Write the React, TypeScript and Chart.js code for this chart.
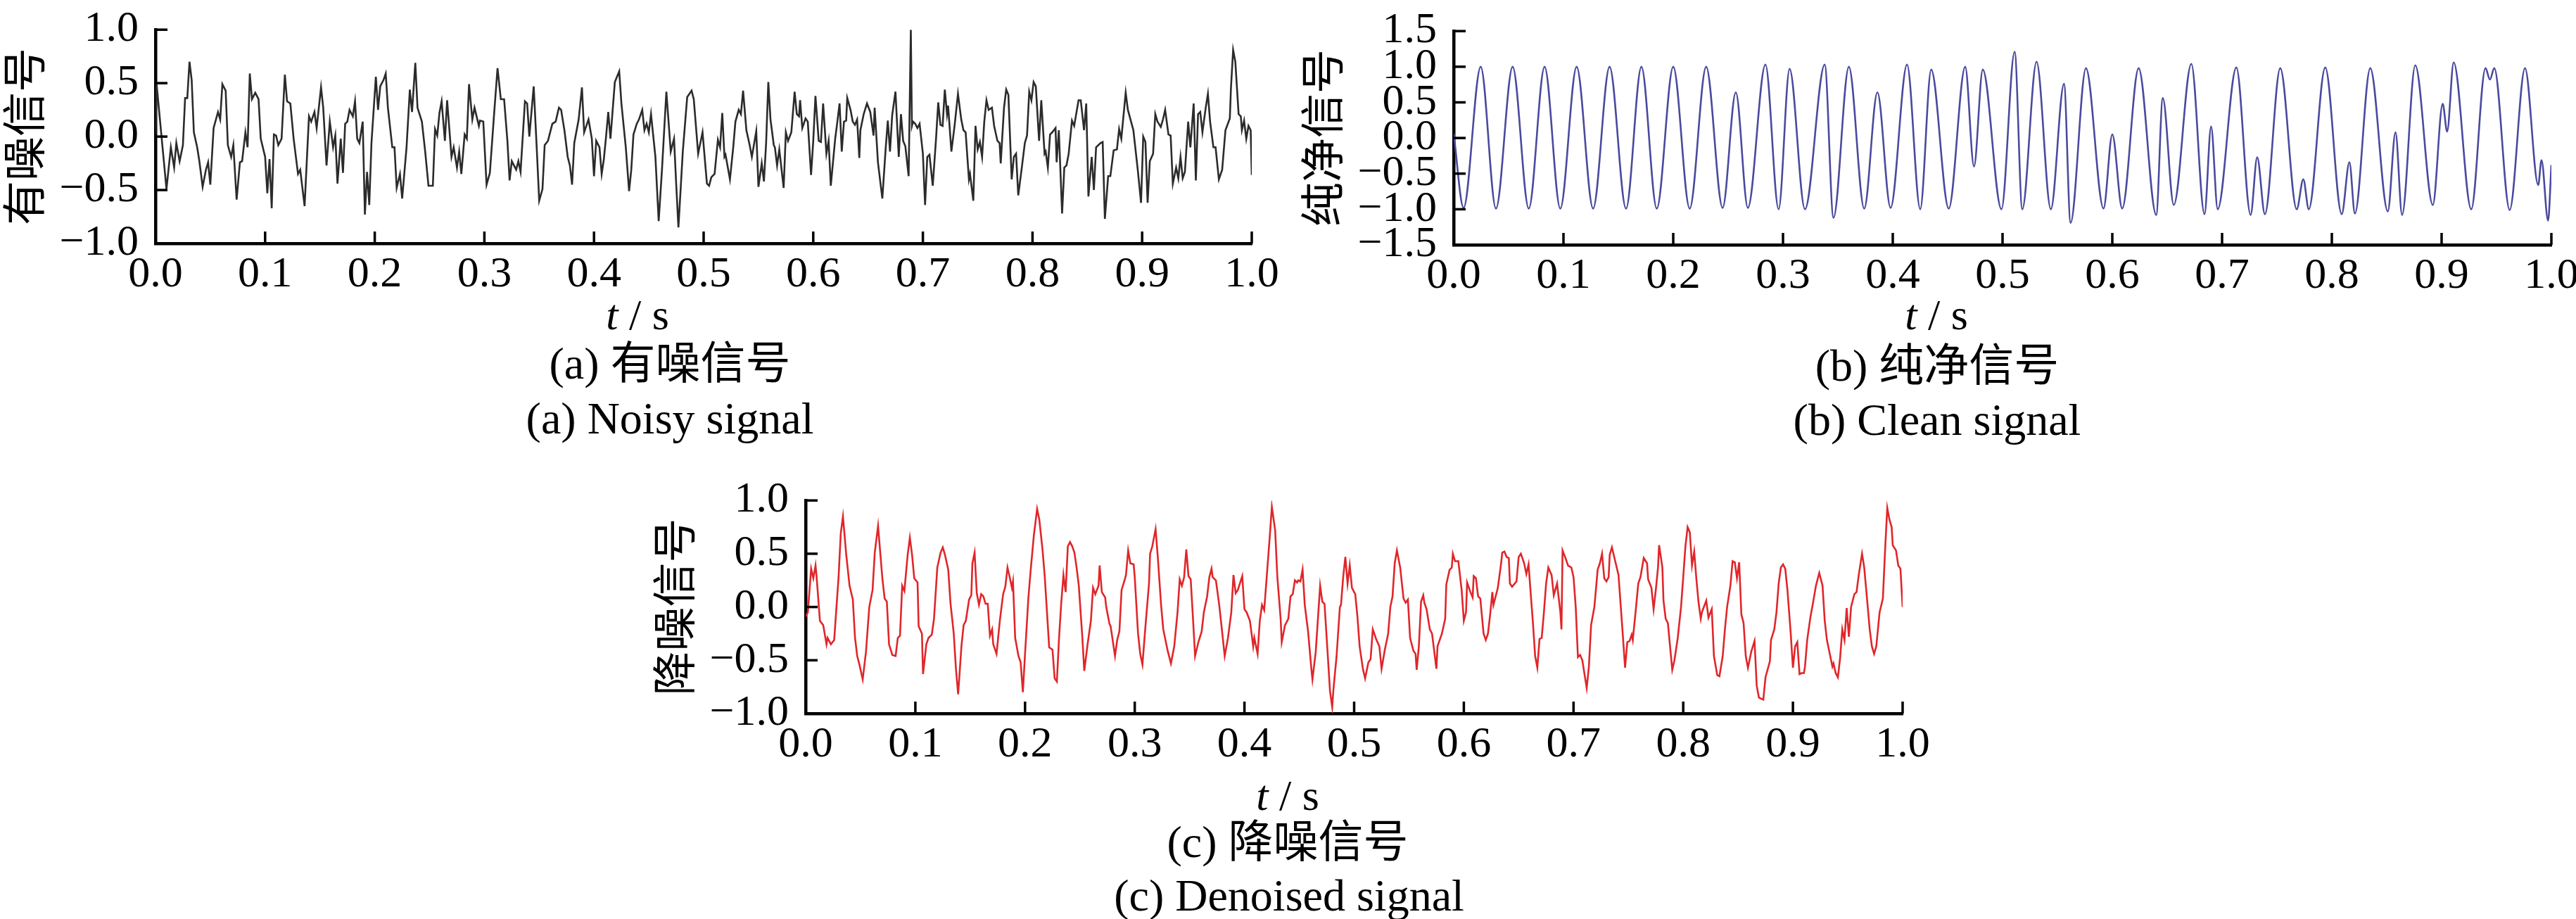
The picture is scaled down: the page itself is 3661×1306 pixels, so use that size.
import React, { useEffect, useRef } from 'react';
import { Chart, registerables } from 'chart.js';

Chart.register(...registerables);

// (a) noisy signal
const noisyT = [
  0.000, 0.001, 0.010, 0.014, 0.017, 0.019, 0.022, 0.025, 0.027, 0.029, 0.031, 0.033, 0.035, 0.038, 0.040, 0.043,
  0.046, 0.048, 0.050, 0.053, 0.057, 0.059, 0.061, 0.064, 0.066, 0.069, 0.071, 0.074, 0.077, 0.079, 0.082, 0.084,
  0.086, 0.088, 0.091, 0.094, 0.096, 0.100, 0.102, 0.104, 0.106, 0.108, 0.110, 0.112, 0.115, 0.118, 0.120, 0.123,
  0.126, 0.130, 0.132, 0.136, 0.140, 0.142, 0.145, 0.147, 0.151, 0.153, 0.156, 0.159, 0.162, 0.164, 0.166, 0.169,
  0.171, 0.173, 0.175, 0.177, 0.180, 0.182, 0.184, 0.186, 0.189, 0.191, 0.193, 0.195, 0.197, 0.201, 0.203, 0.205,
  0.208, 0.210, 0.212, 0.216, 0.218, 0.220, 0.223, 0.225, 0.229, 0.232, 0.234, 0.237, 0.239, 0.243, 0.246, 0.249,
  0.253, 0.255, 0.257, 0.259, 0.261, 0.264, 0.266, 0.270, 0.272, 0.275, 0.277, 0.279, 0.282, 0.284, 0.286, 0.289,
  0.291, 0.295, 0.296, 0.299, 0.302, 0.305, 0.309, 0.312, 0.315, 0.318, 0.321, 0.323, 0.325, 0.329, 0.331, 0.333,
  0.335, 0.337, 0.339, 0.341, 0.345, 0.348, 0.350, 0.353, 0.355, 0.358, 0.362, 0.365, 0.368, 0.370, 0.373, 0.376,
  0.378, 0.380, 0.382, 0.386, 0.389, 0.391, 0.395, 0.398, 0.400, 0.402, 0.405, 0.407, 0.409, 0.411, 0.413, 0.415,
  0.419, 0.423, 0.425, 0.429, 0.432, 0.434, 0.436, 0.439, 0.441, 0.444, 0.446, 0.448, 0.450, 0.452, 0.456, 0.459,
  0.462, 0.466, 0.470, 0.473, 0.475, 0.477, 0.481, 0.485, 0.489, 0.491, 0.495, 0.499,
  0.503, 0.505, 0.507, 0.510, 0.513, 0.515, 0.517, 0.519, 0.520, 0.524, 0.527, 0.529, 0.532, 0.534, 0.536, 0.539,
  0.542, 0.544, 0.548, 0.550, 0.553, 0.555, 0.557, 0.559, 0.561, 0.564, 0.565, 0.567, 0.569, 0.573, 0.575, 0.577,
  0.580, 0.583, 0.585, 0.587, 0.588, 0.590, 0.593, 0.595, 0.598, 0.600, 0.602, 0.605, 0.607, 0.609, 0.612, 0.614,
  0.616, 0.620, 0.622, 0.624, 0.626, 0.628, 0.630, 0.631, 0.634, 0.636, 0.638, 0.640, 0.642, 0.643, 0.646, 0.649,
  0.652, 0.655, 0.656, 0.659, 0.663, 0.666, 0.668, 0.670, 0.672, 0.675, 0.677, 0.678, 0.680, 0.682, 0.684, 0.687,
  0.689, 0.690, 0.691, 0.693, 0.695, 0.697, 0.700, 0.702, 0.704, 0.706, 0.709, 0.712, 0.714, 0.716, 0.718, 0.720,
  0.722, 0.723, 0.726, 0.729, 0.732, 0.735, 0.737, 0.739, 0.742, 0.743, 0.746, 0.748, 0.750, 0.752, 0.754, 0.756,
  0.758, 0.760, 0.763, 0.765, 0.768, 0.770, 0.771, 0.774, 0.776, 0.778, 0.781, 0.783, 0.785, 0.787, 0.790, 0.793,
  0.795, 0.797, 0.799, 0.801, 0.803, 0.806, 0.808, 0.811, 0.812, 0.814, 0.816, 0.818, 0.821, 0.822, 0.824, 0.827,
  0.829, 0.831, 0.833, 0.836, 0.838, 0.842, 0.844, 0.847, 0.849, 0.851, 0.854, 0.856, 0.858, 0.862, 0.864, 0.866,
  0.869, 0.871, 0.874, 0.877, 0.879, 0.881, 0.885, 0.887, 0.892, 0.896, 0.899, 0.901, 0.903, 0.905, 0.907, 0.910,
  0.912, 0.914, 0.917, 0.919, 0.921, 0.924, 0.926, 0.928, 0.931, 0.933, 0.935, 0.937, 0.939, 0.942, 0.944, 0.947,
  0.949, 0.951, 0.953, 0.955, 0.958, 0.960, 0.962, 0.965, 0.967, 0.970, 0.973, 0.976, 0.980, 0.981, 0.983, 0.985,
  0.988, 0.990, 0.991, 0.993, 0.995, 0.997, 0.999, 1.000,
];
const noisyV = [
  0.02, 0.49, -0.49, -0.10, -0.29, -0.06, -0.23, -0.08, 0.36, 0.36, 0.70, 0.53, 0.04, -0.10, -0.23, -0.47,
  -0.31, -0.24, -0.45, 0.08, 0.23, 0.16, 0.49, 0.43, -0.08, -0.19, -0.08, -0.59, -0.24, -0.23, 0.04, -0.10,
  0.59, 0.35, 0.41, 0.35, -0.02, -0.19, -0.53, -0.21, -0.67, 0.02, 0.01, -0.08, -0.02, 0.58, 0.33, 0.31,
  -0.02, -0.35, -0.31, -0.65, 0.19, 0.14, 0.23, 0.08, 0.46, 0.27, -0.27, 0.14, -0.10, 0.01, -0.44, -0.02,
  -0.34, 0.12, 0.14, 0.25, 0.19, 0.33, -0.02, -0.06, 0.14, -0.73, -0.33, -0.64, -0.06, 0.56, 0.25, 0.47,
  0.53, 0.59, 0.27, -0.10, -0.10, -0.48, -0.35, -0.58, -0.10, 0.44, 0.23, 0.69, 0.27, 0.14, -0.14, -0.46,
  -0.46, 0.07, 0.01, 0.22, 0.33, -0.04, 0.34, -0.19, -0.10, -0.29, -0.14, -0.35, 0.02, -0.02, 0.49, 0.16,
  0.27, 0.10, 0.15, 0.14, -0.45, -0.34, 0.23, 0.64, 0.35, 0.35, -0.04, -0.41, -0.23, -0.31, -0.23, -0.33,
  0.00, 0.33, 0.31, 0.00, 0.47, -0.16, -0.60, -0.49, -0.08, -0.04, 0.12, 0.14, 0.27, 0.25, 0.06, -0.19,
  -0.27, -0.45, -0.06, 0.16, 0.46, 0.04, 0.16, -0.02, -0.37, -0.04, -0.10, -0.35, -0.21, 0.00, 0.23, -0.02,
  0.51, 0.61, 0.31, -0.10, -0.51, -0.31, 0.02, 0.12, 0.16, 0.25, 0.06, 0.12, 0.04, 0.21, -0.19, -0.79,
  -0.31, 0.42, -0.14, -0.02, -0.45, -0.85, -0.14, 0.37, 0.43, 0.35, -0.16, 0.04,
  -0.44, -0.46, -0.38, -0.35, -0.03, -0.10, 0.22, -0.19, -0.17, -0.40, -0.10, 0.14, 0.25, 0.21, 0.43, 0.06,
  -0.08, -0.19, 0.05, -0.47, -0.25, -0.42, -0.06, 0.51, 0.16, -0.08, -0.10, -0.27, -0.12, -0.48, 0.04, -0.04,
  0.04, 0.42, 0.21, 0.19, 0.34, 0.08, 0.17, 0.14, -0.36, -0.04, 0.38, -0.04, -0.05, 0.31, -0.16, -0.04,
  -0.46, -0.02, 0.14, 0.31, -0.14, 0.14, 0.15, 0.36, 0.25, 0.14, 0.11, 0.16, -0.20, 0.06, 0.21, 0.31,
  0.23, 0.01, 0.27, -0.24, -0.58, -0.12, 0.15, -0.14, 0.20, 0.42, 0.01, -0.19, 0.21, -0.04, -0.09, -0.37,
  1.00, 0.10, 0.14, 0.12, 0.08, 0.12, -0.16, -0.64, -0.19, -0.17, -0.46, -0.02, 0.32, 0.11, 0.10, 0.44,
  0.21, 0.29, -0.14, 0.11, 0.40, 0.16, 0.06, 0.04, -0.40, -0.35, -0.60, 0.10, -0.12, -0.05, -0.19, 0.14,
  0.34, 0.25, 0.27, 0.10, -0.04, -0.06, -0.25, 0.27, 0.44, 0.39, -0.40, -0.19, -0.16, -0.55, -0.31, -0.06,
  0.01, 0.42, 0.34, 0.51, 0.47, -0.04, 0.34, -0.16, -0.14, -0.29, 0.02, 0.04, 0.08, -0.24, 0.06, -0.72,
  -0.29, -0.27, -0.16, 0.15, 0.10, 0.34, 0.34, 0.06, 0.31, -0.56, -0.19, -0.50, -0.10, -0.06, -0.05, -0.77,
  -0.37, -0.37, -0.13, -0.12, 0.07, -0.02, 0.41, 0.25, 0.06, -0.31, -0.62, 0.00, -0.05, -0.62, -0.23, -0.16,
  0.21, 0.14, 0.09, 0.16, 0.25, 0.02, 0.01, -0.44, -0.29, -0.39, -0.19, -0.39, -0.33, 0.14, -0.10, 0.31,
  -0.41, 0.21, 0.23, 0.04, 0.27, 0.40, 0.14, -0.10, -0.10, -0.40, -0.31, 0.06, 0.17, 0.45, 0.81, 0.70,
  0.21, 0.19, 0.06, 0.15, -0.02, 0.10, 0.06, -0.36,
];

// (b) clean signal: peaks, troughs and start/end values
const cleanT = [
  0.000, 0.009, 0.0246, 0.0385, 0.0537, 0.0684, 0.0828, 0.0971, 0.112, 0.127, 0.142, 0.157, 0.171, 0.185, 0.200, 0.215,
  0.230, 0.245, 0.257, 0.268, 0.284, 0.296, 0.306, 0.320, 0.338, 0.346, 0.360, 0.374, 0.386, 0.398, 0.413, 0.425,
  0.435, 0.451, 0.466, 0.474, 0.482, 0.499, 0.511, 0.518, 0.531, 0.544, 0.556, 0.562, 0.576, 0.592, 0.600, 0.609,
  0.624, 0.640, 0.646, 0.656, 0.672, 0.684, 0.690, 0.696, 0.713, 0.726, 0.732, 0.739, 0.753, 0.768, 0.774, 0.779,
  0.794, 0.809, 0.816, 0.821, 0.835, 0.851, 0.858, 0.864, 0.876, 0.892, 0.901, 0.905, 0.911, 0.927, 0.940, 0.944,
  0.948, 0.962, 0.976, 0.988, 0.991, 0.997, 1.000,
];
const cleanV = [
  0.06, -0.98, 1.00, -0.99, 1.00, -0.99, 1.00, -0.99, 1.00, -0.99, 1.00, -0.99, 1.00, -0.99, 1.00, -0.99,
  1.00, -0.98, 0.64, -0.98, 1.03, -1.00, 0.97, -1.00, 1.03, -1.12, 1.00, -0.99, 0.64, -0.98, 1.03, -1.00,
  0.96, -0.99, 1.00, -0.40, 0.96, -1.00, 1.21, -1.00, 1.07, -1.00, 0.76, -1.19, 0.98, -0.99, 0.05, -0.99,
  0.98, -1.08, 0.56, -0.94, 1.04, -1.07, 0.16, -1.00, 0.99, -1.08, -0.27, -1.07, 0.98, -1.00, -0.58, -1.00,
  0.99, -1.07, -0.34, -1.06, 0.98, -1.03, 0.08, -1.08, 1.02, -0.94, 0.48, 0.09, 1.06, -1.00, 0.98, 0.82,
  0.98, -1.01, 0.98, -0.66, -0.31, -1.16, -0.38,
];

// (c) denoised signal
const denoisedT = [
  0.000, 0.002, 0.005, 0.007, 0.009, 0.010, 0.013, 0.016, 0.019, 0.020, 0.023, 0.026, 0.030, 0.032, 0.034, 0.037,
  0.040, 0.043, 0.045, 0.047, 0.049, 0.052, 0.055, 0.058, 0.061, 0.063, 0.066, 0.068, 0.070, 0.072, 0.074, 0.076,
  0.079, 0.082, 0.084, 0.086, 0.088, 0.090, 0.093, 0.095, 0.097, 0.099, 0.102, 0.103, 0.106, 0.107, 0.110, 0.112,
  0.115, 0.117, 0.120, 0.123, 0.125, 0.127, 0.130, 0.132, 0.135, 0.137, 0.139, 0.142, 0.144, 0.146, 0.149, 0.151,
  0.152, 0.154, 0.156, 0.158, 0.160, 0.162, 0.164, 0.166, 0.168, 0.170, 0.171, 0.174, 0.177, 0.180, 0.182, 0.184,
  0.186, 0.188, 0.189, 0.191, 0.194, 0.196, 0.198, 0.200, 0.203, 0.205, 0.208, 0.211, 0.213, 0.216, 0.218, 0.220,
  0.222, 0.225, 0.227, 0.229, 0.231, 0.233, 0.235, 0.237, 0.239, 0.241, 0.243, 0.245, 0.247, 0.249, 0.252, 0.254,
  0.257, 0.260, 0.262, 0.264, 0.267, 0.268, 0.270, 0.273, 0.274, 0.277, 0.278, 0.282, 0.284, 0.286, 0.288, 0.291,
  0.292, 0.294, 0.296, 0.299, 0.300, 0.303, 0.305, 0.307, 0.310, 0.313, 0.314, 0.316, 0.319, 0.321, 0.324, 0.326,
  0.330, 0.333, 0.336, 0.339, 0.341, 0.343, 0.345, 0.347, 0.349, 0.351, 0.353, 0.355, 0.358, 0.361, 0.363, 0.366,
  0.368, 0.370, 0.371, 0.374, 0.377, 0.379, 0.382, 0.385, 0.388, 0.390, 0.392, 0.394, 0.398, 0.400, 0.402, 0.405,
  0.408, 0.409, 0.412, 0.414, 0.416, 0.418, 0.420, 0.423, 0.425, 0.428, 0.430, 0.433, 0.434, 0.437, 0.440, 0.442,
  0.444, 0.446, 0.448, 0.449, 0.451, 0.453, 0.455, 0.458, 0.461, 0.462, 0.465, 0.469, 0.471, 0.473, 0.476, 0.478,
  0.480, 0.481, 0.484, 0.487, 0.488, 0.490, 0.492, 0.494, 0.496, 0.498, 0.501, 0.503, 0.505, 0.508, 0.510, 0.513,
  0.515, 0.517, 0.520, 0.523, 0.525, 0.528, 0.531, 0.533, 0.535, 0.537, 0.539, 0.542, 0.545, 0.547, 0.549, 0.551,
  0.554, 0.556, 0.557, 0.559, 0.561, 0.563, 0.564, 0.566, 0.569, 0.571, 0.575, 0.576, 0.580, 0.583, 0.584, 0.587,
  0.589, 0.590, 0.592, 0.595, 0.598, 0.600, 0.602, 0.603, 0.606, 0.608, 0.609, 0.611, 0.613, 0.615, 0.618, 0.620,
  0.622, 0.624, 0.626, 0.627, 0.629, 0.631, 0.634, 0.635, 0.637, 0.639, 0.641, 0.642, 0.644, 0.648, 0.650, 0.652,
  0.655, 0.657, 0.659, 0.661, 0.663, 0.665, 0.667, 0.669, 0.671, 0.673, 0.675, 0.677, 0.680, 0.682, 0.685, 0.688,
  0.689, 0.690, 0.693, 0.695, 0.698, 0.700, 0.702, 0.704, 0.706, 0.708, 0.712, 0.714, 0.716, 0.719, 0.722, 0.724,
  0.726, 0.728, 0.730, 0.732, 0.733, 0.735, 0.738, 0.741, 0.744, 0.747, 0.749, 0.751, 0.753, 0.754, 0.757, 0.759,
  0.761, 0.764, 0.767, 0.768, 0.771, 0.773, 0.775, 0.777, 0.778, 0.781, 0.782, 0.784, 0.786, 0.788, 0.790, 0.792,
  0.795, 0.798, 0.800, 0.802, 0.804, 0.806, 0.808, 0.810, 0.812, 0.814, 0.816, 0.817, 0.821, 0.823, 0.826, 0.828,
  0.831, 0.833, 0.836, 0.838, 0.840, 0.843, 0.845, 0.847, 0.849, 0.851, 0.853, 0.855, 0.857, 0.859, 0.862, 0.865,
  0.867, 0.869, 0.873, 0.875, 0.879, 0.880, 0.883, 0.885, 0.887, 0.889, 0.891, 0.893, 0.895, 0.898, 0.900, 0.902,
  0.904, 0.906, 0.908, 0.910, 0.911, 0.913, 0.916, 0.918, 0.921, 0.924, 0.927, 0.929, 0.931, 0.934, 0.936, 0.937,
  0.939, 0.941, 0.943, 0.945, 0.947, 0.949, 0.951, 0.953, 0.956, 0.958, 0.960, 0.963, 0.965, 0.967, 0.970, 0.972,
  0.974, 0.976, 0.979, 0.982, 0.984, 0.986, 0.988, 0.990, 0.991, 0.994, 0.996, 0.998, 1.000,
];
const denoisedV = [
  -0.09, -0.05, 0.36, 0.27, 0.39, 0.28, -0.13, -0.17, -0.35, -0.29, -0.35, -0.31, 0.28, 0.69, 0.85, 0.49,
  0.20, 0.07, -0.29, -0.46, -0.54, -0.68, -0.42, 0.00, 0.16, 0.51, 0.76, 0.51, 0.26, 0.08, 0.05, -0.35,
  -0.45, -0.46, -0.29, -0.27, 0.20, 0.15, 0.49, 0.65, 0.49, 0.27, 0.23, -0.18, -0.25, -0.63, -0.35, -0.29,
  -0.26, -0.11, 0.37, 0.51, 0.56, 0.49, 0.35, 0.04, -0.25, -0.58, -0.82, -0.37, -0.17, -0.13, 0.07, 0.11,
  0.41, 0.51, 0.13, 0.02, 0.12, 0.10, 0.03, 0.03, -0.27, -0.21, -0.35, -0.44, -0.13, 0.12, 0.19, 0.37,
  0.28, 0.18, 0.24, -0.29, -0.46, -0.52, -0.80, -0.44, 0.08, 0.33, 0.67, 0.92, 0.82, 0.53, 0.28, -0.05,
  -0.38, -0.40, -0.67, -0.70, -0.29, 0.04, 0.30, 0.14, 0.57, 0.61, 0.57, 0.51, 0.37, 0.20, -0.25, -0.60,
  -0.35, -0.13, 0.18, 0.12, 0.20, 0.39, 0.14, 0.09, 0.00, -0.16, -0.18, -0.46, -0.31, -0.23, 0.16, 0.26,
  0.30, 0.53, 0.41, 0.40, 0.28, -0.25, -0.44, -0.54, -0.15, 0.22, 0.50, 0.57, 0.73, 0.47, 0.02, -0.21,
  -0.41, -0.53, -0.37, -0.05, 0.26, 0.20, 0.28, 0.54, 0.29, 0.26, -0.09, -0.46, -0.33, -0.23, -0.05, 0.10,
  0.28, 0.36, 0.28, 0.25, 0.02, -0.17, -0.46, -0.29, -0.05, 0.30, 0.13, 0.16, 0.29, -0.02, -0.05, -0.13,
  -0.37, -0.29, -0.44, -0.13, 0.02, -0.03, 0.24, 0.65, 0.94, 0.72, 0.28, -0.11, -0.33, -0.17, -0.11, 0.10,
  0.12, 0.25, 0.23, 0.25, 0.24, 0.35, 0.02, -0.23, -0.58, -0.68, -0.42, 0.20, 0.05, 0.03, -0.46, -0.79,
  -0.94, -0.79, -0.46, 0.00, 0.02, 0.28, 0.47, 0.22, 0.39, 0.18, 0.12, -0.09, -0.37, -0.58, -0.67, -0.52,
  -0.49, -0.21, -0.30, -0.37, -0.58, -0.40, -0.25, 0.00, 0.10, 0.41, 0.53, 0.37, 0.08, 0.04, 0.07, -0.29,
  -0.41, -0.44, -0.59, -0.37, 0.05, 0.11, 0.04, -0.02, -0.21, -0.25, -0.58, -0.37, -0.25, -0.11, 0.21, 0.35,
  0.37, 0.50, 0.43, 0.43, 0.16, -0.13, -0.05, 0.23, 0.14, 0.09, 0.29, 0.27, 0.10, 0.08, -0.25, -0.31,
  -0.25, -0.07, 0.14, 0.02, 0.10, 0.18, 0.41, 0.51, 0.52, 0.47, 0.46, 0.22, 0.19, 0.24, 0.47, 0.50,
  0.41, 0.31, 0.40, 0.12, -0.15, -0.46, -0.57, -0.30, -0.29, -0.05, 0.22, 0.37, 0.30, 0.11, 0.22, -0.05,
  -0.21, 0.53, 0.45, 0.39, 0.37, 0.28, 0.00, -0.47, -0.45, -0.50, -0.76, -0.56, -0.17, 0.00, 0.35, 0.41,
  0.50, 0.27, 0.24, 0.28, 0.49, 0.56, 0.43, 0.30, -0.13, -0.57, -0.33, -0.32, -0.26, -0.31, 0.00, 0.22,
  0.28, 0.46, 0.41, 0.26, 0.18, -0.02, 0.16, 0.37, 0.58, 0.37, 0.06, -0.11, -0.15, -0.37, -0.59, -0.50,
  -0.29, 0.00, 0.28, 0.57, 0.75, 0.70, 0.39, 0.52, 0.26, 0.04, -0.11, -0.05, 0.06, -0.10, -0.02, -0.46,
  -0.64, -0.65, -0.46, -0.21, 0.00, 0.20, 0.43, 0.42, 0.27, 0.42, -0.07, -0.15, -0.46, -0.57, -0.42, -0.32,
  -0.74, -0.85, -0.87, -0.66, -0.51, -0.31, -0.21, -0.05, 0.22, 0.37, 0.40, 0.36, 0.16, -0.25, -0.57, -0.37,
  -0.33, -0.63, -0.62, -0.62, -0.56, -0.31, -0.09, 0.02, 0.20, 0.32, 0.20, -0.13, -0.31, -0.46, -0.56, -0.53,
  -0.62, -0.66, -0.48, -0.21, -0.31, -0.01, -0.28, 0.00, 0.12, 0.14, 0.30, 0.50, 0.37, 0.14, -0.21, -0.37,
  -0.44, -0.37, -0.05, 0.08, 0.53, 0.93, 0.82, 0.75, 0.58, 0.53, 0.39, 0.36, 0.00,
];

const serif = '"Liberation Serif", "Times New Roman", serif';
const cjk = '"Noto Sans CJK SC", sans-serif';

const fmt = (v: number) => (v < 0 ? '\u2212' : '') + Math.abs(v).toFixed(1);

// inward tick marks drawn from the scales' own tick positions
const inwardTicks = {
  id: 'inwardTicks',
  afterDraw(chart: any) {
    const { ctx, chartArea, scales } = chart;
    ctx.save();
    ctx.strokeStyle = '#000';
    ctx.lineWidth = 3.5;
    scales.x.ticks.forEach((t: any) => {
      const px = scales.x.getPixelForValue(t.value);
      ctx.beginPath();
      ctx.moveTo(px, chartArea.bottom);
      ctx.lineTo(px, chartArea.bottom - 17);
      ctx.stroke();
    });
    scales.y.ticks.forEach((t: any) => {
      const py = scales.y.getPixelForValue(t.value);
      ctx.beginPath();
      ctx.moveTo(chartArea.left, py);
      ctx.lineTo(chartArea.left + 17, py);
      ctx.stroke();
    });
    ctx.restore();
  },
};

interface PanelProps {
  t: number[];
  v: number[];
  color: string;
  yMin: number;
  yMax: number;
  yTitle: string;
  left: number;
  top: number;
  right: number;
  bottom: number;
  smooth?: boolean;
}

const Y_AXIS_W = 221;
const X_AXIS_H = 90;
const PAD_TOP = 40;
const PAD_RIGHT = 50;

const Panel: React.FC<PanelProps> = ({ t, v, color, yMin, yMax, yTitle, left, top, right, bottom, smooth }) => {
  const canvasRef = useRef<HTMLCanvasElement>(null);
  const w = Y_AXIS_W + (right - left) + PAD_RIGHT;
  const h = PAD_TOP + (bottom - top) + X_AXIS_H;

  useEffect(() => {
    if (!canvasRef.current) return;
    const chart = new Chart(canvasRef.current, {
      type: 'line',
      data: {
        datasets: [
          {
            data: t.map((x, i) => ({ x, y: v[i] })),
            borderColor: color,
            borderWidth: 2.6,
            pointRadius: 0,
            tension: smooth ? 0.4 : 0,
            cubicInterpolationMode: smooth ? 'monotone' : 'default',
            fill: false,
          },
        ],
      },
      options: {
        animation: false,
        responsive: false,
        devicePixelRatio: 1,
        events: [],
        layout: { padding: { top: PAD_TOP, right: PAD_RIGHT, left: 0, bottom: 0 } },
        plugins: { legend: { display: false }, tooltip: { enabled: false } },
        scales: {
          x: {
            type: 'linear',
            min: 0,
            max: 1,
            afterFit: (s: any) => {
              s.height = X_AXIS_H;
            },
            grid: { display: false, drawTicks: false },
            border: { display: true, color: '#000', width: 4.5 },
            ticks: {
              stepSize: 0.1,
              autoSkip: false,
              maxRotation: 0,
              padding: 8,
              color: '#000',
              font: { family: serif, size: 62, lineHeight: 1.2 },
              callback: (val: any) => Number(val).toFixed(1),
            },
          },
          y: {
            type: 'linear',
            min: yMin,
            max: yMax,
            afterFit: (s: any) => {
              s.width = Y_AXIS_W;
            },
            grid: { display: false, drawTicks: false },
            border: { display: true, color: '#000', width: 4.5 },
            ticks: {
              stepSize: 0.5,
              autoSkip: false,
              padding: 24,
              color: '#000',
              font: { family: serif, size: 62, lineHeight: 1.2 },
              callback: (val: any) => fmt(Number(val)),
            },
            title: {
              display: true,
              text: yTitle,
              color: '#000',
              font: { family: cjk, size: 63, lineHeight: 1 },
              padding: { top: 2, bottom: 0 },
            },
          },
        },
      } as any,
      plugins: [inwardTicks],
    });
    return () => chart.destroy();
  }, [t, v, color, yMin, yMax, yTitle, smooth]);

  return (
    <canvas
      ref={canvasRef}
      width={w}
      height={h}
      style={{ position: 'absolute', left: left - Y_AXIS_W, top: top - PAD_TOP, width: w, height: h }}
    />
  );
};

const Label: React.FC<{ x: number; y: number; size?: number; children: React.ReactNode }> = ({ x, y, size = 64, children }) => (
  <div
    style={{
      position: 'absolute',
      left: x,
      top: y,
      transform: 'translate(-50%, -50%)',
      fontFamily: `"Liberation Serif", "Times New Roman", ${cjk}`,
      fontSize: size,
      lineHeight: 1,
      whiteSpace: 'nowrap',
      color: '#000',
    }}
  >
    {children}
  </div>
);

const App: React.FC = () => {
  useEffect(() => {
    document.body.style.margin = '0';
  }, []);

  return (
    <div style={{ position: 'relative', width: 3661, height: 1306, overflow: 'hidden', background: '#fff' }}>
      <Panel t={noisyT} v={noisyV} color="#2b2b2b" yMin={-1} yMax={1} yTitle="有噪信号" left={221} top={21} right={1779} bottom={346} />
      <Panel t={cleanT} v={cleanV} color="#4a4a9e" yMin={-1.5} yMax={1.5} yTitle="纯净信号" left={2066} top={23} right={3626} bottom={348} smooth />
      <Panel t={denoisedT} v={denoisedV} color="#e0262a" yMin={-1} yMax={1} yTitle="降噪信号" left={1145} top={690} right={2704} bottom={1014} />

      <Label x={906} y={447} size={62}><i>t</i> / s</Label>
      <Label x={952} y={517}>(a) 有噪信号</Label>
      <Label x={952} y={595}>(a) Noisy signal</Label>

      <Label x={2752} y={447} size={62}><i>t</i> / s</Label>
      <Label x={2753} y={520}>(b) 纯净信号</Label>
      <Label x={2753} y={597}>(b) Clean signal</Label>

      <Label x={1830} y={1130} size={62}><i>t</i> / s</Label>
      <Label x={1830} y={1197}>(c) 降噪信号</Label>
      <Label x={1832} y={1273}>(c) Denoised signal</Label>
    </div>
  );
};

export default App;
